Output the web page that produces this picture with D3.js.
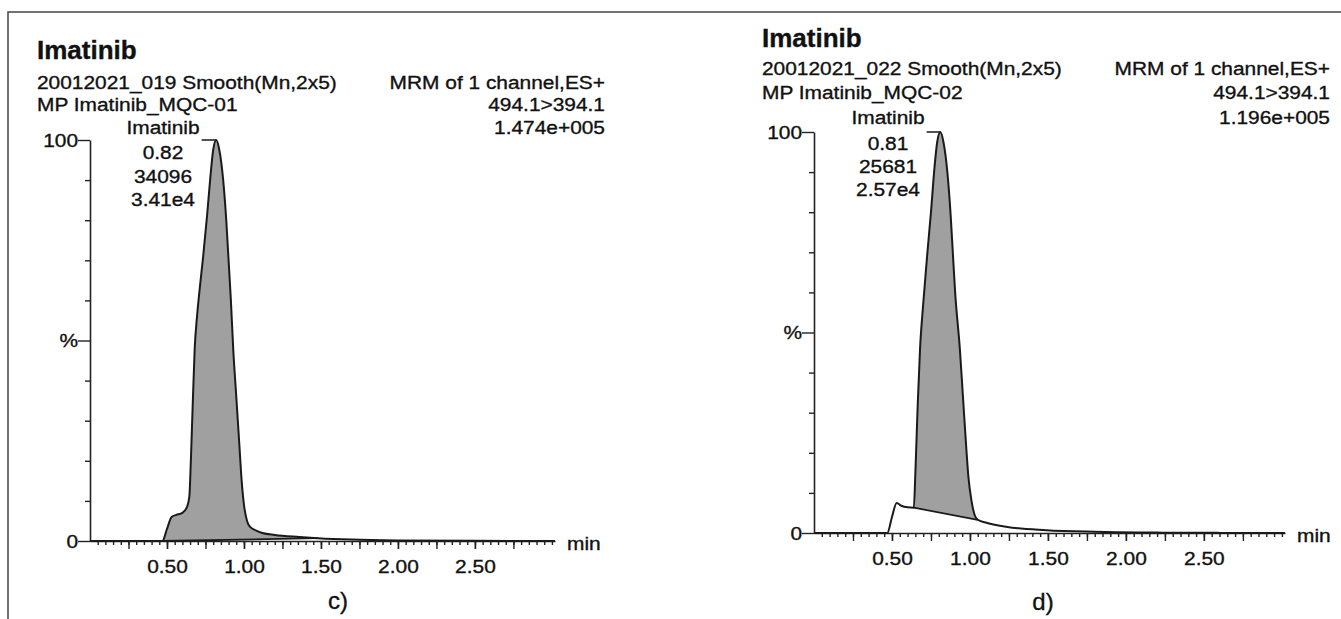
<!DOCTYPE html>
<html><head><meta charset="utf-8">
<script src="https://cdn.jsdelivr.net/npm/d3@7"></script>
<style>
body{margin:0;background:#fff}
svg{display:block}
text{font-family:"Liberation Sans",Arial,Helvetica,sans-serif;fill:#111;stroke:#111;stroke-width:0.35px}
</style>
</head><body>
<svg id="chart" width="1341" height="619"></svg>
<script>
// ---------- DATA ----------
const timesC =     [0, 0.46, 0.47, 0.50, 0.53, 0.56, 0.60, 0.63, 0.645, 0.655, 0.668, 0.68, 0.695, 0.71, 0.735, 0.76, 0.78, 0.80, 0.82, 0.84, 0.865, 0.885, 0.90, 0.915, 0.93, 0.95, 0.97, 0.985, 1.00, 1.02, 1.04, 1.08, 1.12, 1.20, 1.36, 1.48, 1.70, 2.00, 2.50, 3.02];
const intensityC = [0, 0,    0,    3,    6,    6.5,  7,    8.5,  11,    20,    35,    48,   56,    62,   71,    81,   90,   97.5, 100,  97.5, 90,    80,    70,   60,    48,   36,   24,   15,    9,    5,    3.5,  2.6,  2,    1.5,  1,    0.7,  0.35, 0.15, 0.05, 0];
const integrationC = [[0.47, 0], [1.48, 0.7]];

const timesD =     [0, 0.46, 0.47, 0.50, 0.53, 0.56, 0.60, 0.64, 0.65, 0.665, 0.68, 0.70, 0.725, 0.75, 0.77, 0.79, 0.81, 0.83, 0.855, 0.875, 0.89, 0.905, 0.935, 0.955, 0.975, 0.99, 1.01, 1.03, 1.05, 1.10, 1.24, 1.49, 1.80, 2.20, 2.60, 3.02];
const intensityD = [0, 0,    0,    4,    7.5,  6.8,  6.4,  6.3,  15,   32,    46,   57,   69,    80,   90,   97.5, 100,  97.5, 90,    80,    70,   60,    46,    34,    22,    14,   8,    4.5,  3.3,  2.6,  1.5,  0.7,  0.3,  0.1,  0.03, 0];
const integrationD = [[0.64, 6.3], [1.05, 3.3]];

const xMinorTicks = d3.range(1, 61).map(i => i * 0.05);
const xMajorTicks = [0.25, 0.5, 0.75, 1, 1.25, 1.5, 1.75, 2, 2.25, 2.5, 2.75];
const xLabelValues = [0.5, 1.0, 1.5, 2.0, 2.5];
const xLabelText = ["0.50", "1.00", "1.50", "2.00", "2.50"];
const yMinorTicks = [10, 20, 30, 40, 60, 70, 80, 90];
const yMajorTicks = [0, 50, 100];
const yMajorText = ["0", "%", "100"];

const titles = ["Imatinib", "Imatinib"];
const headerLeft1 = ["20012021_019 Smooth(Mn,2x5)", "20012021_022 Smooth(Mn,2x5)"];
const headerLeft2 = ["MP Imatinib_MQC-01", "MP Imatinib_MQC-02"];
const headerRight = [["MRM of 1 channel,ES+", "494.1>394.1", "1.474e+005"],
                     ["MRM of 1 channel,ES+", "494.1>394.1", "1.196e+005"]];
const peakNames = ["Imatinib", "Imatinib"];
const peakRT = [0.82, 0.81];
const peakInfo = [["0.82", "34096", "3.41e4"], ["0.81", "25681", "2.57e4"]];
const panelLetters = ["c)", "d)"];

// ---------- LAYOUT ----------
const FS = 19, SX = 1.1;
const panels = [
  {t: timesC, v: intensityC, base: integrationC, x0: 90, x1: 555, yb: 541, yt: 140,
   hx: 37, hr: 605, ty: 59, rows: [89, 111, 134], lx: 163, iy: [159, 183, 206],
   letterX: 338, letterY: 609},
  {t: timesD, v: intensityD, base: integrationD, x0: 814, x1: 1285, yb: 533, yt: 132,
   hx: 762, hr: 1330, ty: 47, rows: [75, 99, 124], lx: 888, iy: [150, 173, 196],
   letterX: 1043, letterY: 610}
];

const svg = d3.select("#chart");

function addText(g, x, y, str, opts = {}) {
  const t = g.append("text")
    .attr("transform", `translate(${x},${y}) scale(${opts.sx || SX},1)`)
    .attr("text-anchor", opts.anchor || "start")
    .attr("font-size", (opts.size || FS) + "px")
    .text(str);
  if (opts.weight) t.attr("font-weight", opts.weight);
  if (opts.family) t.attr("font-family", opts.family);
  return t;
}

// frame
svg.append("path").attr("d", "M8,619V12H1341").attr("fill", "none")
  .attr("stroke", "#444").attr("stroke-width", 1.5);

panels.forEach((p, i) => {
  const g = svg.append("g");
  const x = d3.scaleLinear().domain([0, 3.02]).range([p.x0, p.x1]);
  const y = d3.scaleLinear().domain([0, 100]).range([p.yb, p.yt]);
  const data = p.t.map((t, k) => ({t, v: p.v[k]}));
  const [b0, b1] = p.base;
  const baseAt = t => b0[1] + (b1[1] - b0[1]) * (t - b0[0]) / (b1[0] - b0[0]);

  // integrated area
  const seg = data.filter(d => d.t >= b0[0] - 1e-9 && d.t <= b1[0] + 1e-9);
  g.append("path").datum(seg)
    .attr("d", d3.area().x(d => x(d.t)).y0(d => y(baseAt(d.t))).y1(d => y(d.v)).curve(d3.curveMonotoneX))
    .attr("fill", "#a0a0a0").attr("stroke", "none");

  // axes
  const xa1 = g.append("g").attr("transform", `translate(0,${p.yb})`)
    .call(d3.axisBottom(x).tickValues(xMinorTicks).tickSize(4).tickSizeOuter(0).tickFormat(""));
  xa1.select(".domain").remove();
  const xa2 = g.append("g").attr("transform", `translate(0,${p.yb})`)
    .call(d3.axisBottom(x).tickValues(xMajorTicks).tickSize(8).tickSizeOuter(0).tickFormat(""));
  xa2.select(".domain").remove();
  const xa3 = g.append("g").attr("transform", `translate(0,${p.yb})`)
    .call(d3.axisBottom(x).tickValues(xLabelValues).tickSize(8).tickSizeOuter(0).tickPadding(11)
      .tickFormat((d, k) => xLabelText[k]));
  xa3.selectAll("text").attr("font-size", FS + "px").attr("font-family", null).attr("fill", "#111")
    .attr("transform", `scale(${SX},1)`);
  xa3.select(".domain").attr("stroke-width", 1.6);

  const ya1 = g.append("g").attr("transform", `translate(${p.x0},0)`)
    .call(d3.axisLeft(y).tickValues(yMinorTicks).tickSize(5).tickSizeOuter(0).tickFormat(""));
  ya1.select(".domain").remove();
  const ya2 = g.append("g").attr("transform", `translate(${p.x0},0)`)
    .call(d3.axisLeft(y).tickValues(yMajorTicks).tickSize(12).tickSizeOuter(0).tickPadding(0)
      .tickFormat((d, k) => yMajorText[k]));
  ya2.selectAll("text").attr("font-size", FS + "px").attr("font-family", null).attr("fill", "#111")
    .attr("x", -12 / SX).attr("transform", `scale(${SX},1)`);
  ya2.select(".domain").attr("stroke-width", 1.6);
  g.selectAll(".tick line").attr("stroke", "#222").attr("stroke-width", 1.4);
  g.selectAll(".domain").attr("stroke", "#222");

  // chromatogram line
  g.append("path").datum(data)
    .attr("d", d3.line().x(d => x(d.t)).y(d => y(d.v)).curve(d3.curveMonotoneX))
    .attr("fill", "none").attr("stroke", "#1a1a1a").attr("stroke-width", 2);
  // integration baseline
  g.append("line").attr("x1", x(b0[0])).attr("y1", y(b0[1])).attr("x2", x(b1[0])).attr("y2", y(b1[1]))
    .attr("stroke", "#1a1a1a").attr("stroke-width", 1.8);

  // "min"
  addText(g, p.x1 + 12, p.yb + 9, "min");

  // header
  addText(g, p.hx, p.ty, titles[i], {size: 25, weight: "bold", sx: 1.04});
  addText(g, p.hx, p.rows[0], headerLeft1[i]);
  addText(g, p.hx, p.rows[1], headerLeft2[i]);
  p.rows.forEach((yy, k) => addText(g, p.hr, yy, headerRight[i][k], {anchor: "end"}));

  // peak annotation
  const lbl = addText(g, p.lx, p.rows[2], peakNames[i], {anchor: "middle"});
  const w = lbl.node().getComputedTextLength() * SX;
  g.append("path").attr("d", `M${p.lx + w / 2 + 2},${y(100)}H${x(peakRT[i])}`)
    .attr("stroke", "#1a1a1a").attr("stroke-width", 1.5).attr("fill", "none");
  peakInfo[i].forEach((s, k) => addText(g, p.lx, p.iy[k], s, {anchor: "middle"}));

  // panel letter
  addText(g, p.letterX, p.letterY, panelLetters[i],
    {anchor: "middle", size: 24, sx: 1, family: "'Liberation Serif','Times New Roman',serif"});
});
</script>
</body></html>
